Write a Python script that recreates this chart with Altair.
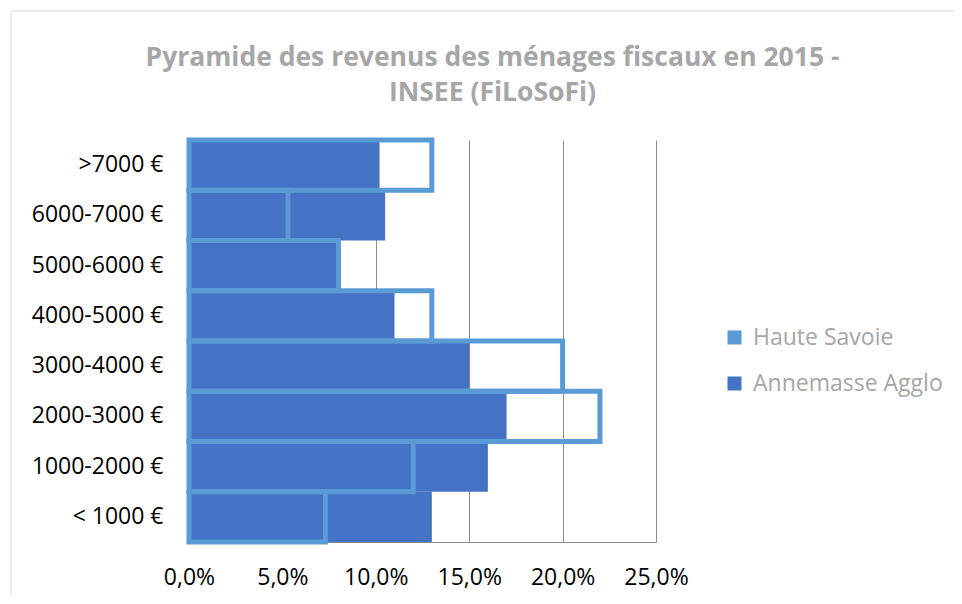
import altair as alt
import pandas as pd

categories = [">7000 €", "6000-7000 €", "5000-6000 €", "4000-5000 €",
              "3000-4000 €", "2000-3000 €", "1000-2000 €", "< 1000 €"]
haute_savoie = [13.0, 5.3, 8.0, 13.0, 20.0, 22.0, 12.0, 7.3]
annemasse = [10.2, 10.5, 7.9, 11.0, 15.0, 17.0, 16.0, 13.0]
series_names = ["Haute Savoie", "Annemasse Agglo"]
series_colors = ["#5B9BD5", "#4472C4"]
x_ticks = [0.0, 0.05, 0.10, 0.15, 0.20, 0.25]
title_lines = ["Pyramide des revenus des ménages fiscaux en 2015 -", "INSEE (FiLoSoFi)"]

rows = []
for c, v in zip(categories, haute_savoie):
    rows.append({"category": c, "series": series_names[0], "value": v / 100})
for c, v in zip(categories, annemasse):
    rows.append({"category": c, "series": series_names[1], "value": v / 100})
df = pd.DataFrame(rows)

FONT = "Open Sans"
GRID = "#8c8c8c"

x_enc = alt.X(
    "value:Q",
    scale=alt.Scale(domain=[0, 0.25], nice=False, zero=True),
    axis=alt.Axis(
        title=None, values=x_ticks,
        labelExpr="replace(format(datum.value, '.1%'), '.', ',')",
        ticks=False, grid=True, gridColor=GRID, gridWidth=1,
        domain=True, domainColor=GRID, labelPadding=24, labelFlush=False,
        labelFont=FONT, labelFontSize=23, labelColor="#000000",
    ),
)
y_enc = alt.Y(
    "category:N", sort=categories,
    scale=alt.Scale(paddingInner=0, paddingOuter=0),
    axis=alt.Axis(
        title=None, ticks=False, domain=True, domainColor=GRID,
        labelPadding=26, labelFont=FONT, labelFontSize=23,
        labelColor="#000000", labelLimit=300,
    ),
)

base = alt.Chart(df)

frame = alt.Chart(pd.DataFrame({"k": [0]})).mark_rect(
    filled=False, stroke="#d9d9d9", strokeWidth=1
).encode(
    x=alt.value(-178), x2=alt.value(800),
    y=alt.value(-129), y2=alt.value(480),
)

aa = base.transform_filter(alt.datum.series == series_names[1]).mark_bar(
    strokeWidth=0
).encode(
    x=x_enc, y=y_enc,
    fill=alt.Fill(
        "series:N",
        scale=alt.Scale(domain=series_names, range=series_colors),
        legend=alt.Legend(
            title=None, orient="none", legendX=534, legendY=186,
            symbolType="square", symbolSize=196, symbolStrokeWidth=0,
            labelFont=FONT, labelFontSize=23, labelColor="#A6A6A6",
            labelOffset=7, rowPadding=22, labelLimit=400,
        ),
    ),
)

hs = base.transform_filter(alt.datum.series == series_names[0]).mark_bar(
    fill="transparent", stroke=series_colors[0], strokeWidth=5, strokeJoin="miter"
).encode(x=x_enc, y=y_enc)

chart = alt.layer(frame, aa, hs).properties(
    width=467, height=402,
    autosize=alt.AutoSizeParams(type="none"),
    padding={"left": 181, "top": 132, "right": 298, "bottom": 54},
    title=alt.TitleParams(
        text=title_lines, font=FONT, fontSize=26.5, fontWeight="bold",
        color="#A6A6A6", anchor="middle", frame="group", dx=70,
        offset=-96, lineHeight=35,
    ),
).configure_view(stroke=None)

chart.save("out.html", embed_options={"renderer": "svg", "actions": False})
